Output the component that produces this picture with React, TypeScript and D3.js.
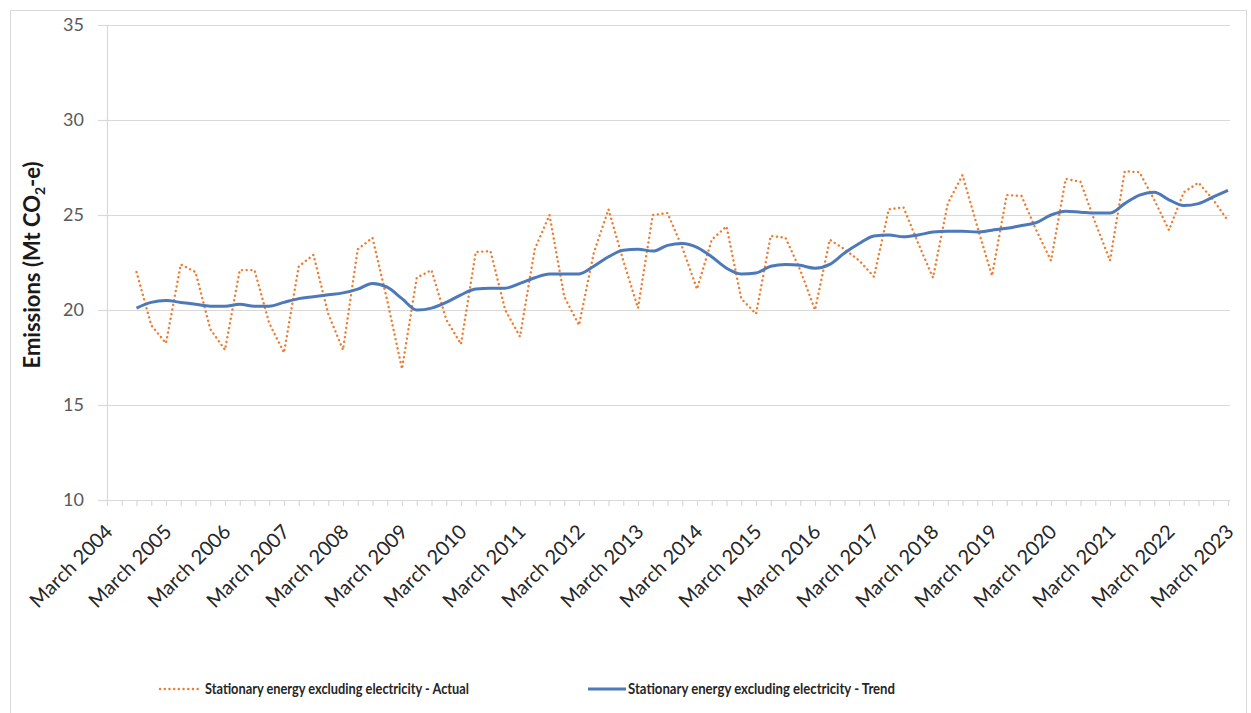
import React from "react";
import * as d3 from "d3";

// ---- Data (quarterly, Mt CO2-e) ----
// Quarter categories run from March 2004 to March 2023 (77 quarters);
// series values start at the September 2004 quarter.
const categoryMonths = ["March", "June", "September", "December"];
const firstYear = 2004;
const lastYear = 2023;
const seriesStartIndex = 2;

const tickLabels = [
  "March 2004", "March 2005", "March 2006", "March 2007", "March 2008",
  "March 2009", "March 2010", "March 2011", "March 2012", "March 2013",
  "March 2014", "March 2015", "March 2016", "March 2017", "March 2018",
  "March 2019", "March 2020", "March 2021", "March 2022", "March 2023",
];

const actual = [
  22.0, 19.2, 18.25, 22.4, 22.0, 19.0, 17.9, 22.1, 22.1, 19.3,
  17.75, 22.3, 22.9, 19.8, 17.9, 23.2, 23.8, 20.5, 16.9, 21.7,
  22.1, 19.5, 18.2, 23.05, 23.1, 20.0, 18.6, 23.2, 25.0, 20.7,
  19.2, 23.0, 25.3, 22.6, 20.1, 25.0, 25.1, 23.3, 21.1, 23.7,
  24.4, 20.6, 19.8, 23.9, 23.8, 22.1, 20.0, 23.7, 23.2, 22.6,
  21.75, 25.3, 25.4, 23.5, 21.7, 25.6, 27.1, 24.4, 21.8, 26.05,
  26.0, 24.2, 22.6, 26.9, 26.75, 24.6, 22.6, 27.3, 27.25, 25.8,
  24.2, 26.2, 26.7, 25.8, 24.7,
];

const trend = [
  20.1, 20.4, 20.5, 20.4, 20.3, 20.2, 20.2, 20.3, 20.2, 20.2,
  20.4, 20.6, 20.7, 20.8, 20.9, 21.1, 21.4, 21.2, 20.6, 20.0,
  20.1, 20.4, 20.8, 21.1, 21.15, 21.15, 21.4, 21.7, 21.9, 21.9,
  21.9, 22.3, 22.8, 23.15, 23.2, 23.1, 23.4, 23.5, 23.3, 22.8,
  22.2, 21.9, 21.95, 22.3, 22.4, 22.35, 22.2, 22.4, 23.0, 23.5,
  23.9, 23.95, 23.85, 23.95, 24.1, 24.15, 24.15, 24.1, 24.2, 24.3,
  24.45, 24.6, 25.0, 25.2, 25.15, 25.1, 25.1, 25.6, 26.05, 26.2,
  25.8, 25.5, 25.6, 25.95, 26.3,
];

const yTicks = [10, 15, 20, 25, 30, 35];

const seriesNames = [
  "Stationary energy excluding electricity - Actual",
  "Stationary energy excluding electricity - Trend",
];

// ---- Build categories ----
const categories: string[] = [];
for (let y = firstYear; y <= lastYear; y++) {
  for (const m of categoryMonths) {
    const label = `${m} ${y}`;
    categories.push(label);
    if (label === tickLabels[tickLabels.length - 1]) break;
  }
}

const W = 1251;
const H = 713;
const plot = { left: 107, right: 1228, top: 25, bottom: 500 };

const ORANGE = "#ED7D31";
const BLUE = "#4E79B9";
const GRID = "#D9D9D9";
const FONT = "Lato, 'Open Sans', sans-serif";

export default function App() {
  const x = d3
    .scalePoint<string>()
    .domain(categories)
    .range([plot.left, plot.right]);
  const y = d3.scaleLinear().domain([10, 35]).range([plot.bottom, plot.top]);

  const actualPts = actual.map((v, i) => ({ c: categories[i + seriesStartIndex], v }));
  const trendPts = trend.map((v, i) => ({ c: categories[i + seriesStartIndex], v }));

  const line = d3
    .line<{ c: string; v: number }>()
    .x((d) => x(d.c) as number)
    .y((d) => y(d.v));

  const trendLine = d3
    .line<{ c: string; v: number }>()
    .x((d) => x(d.c) as number)
    .y((d) => y(d.v))
    .curve(d3.curveMonotoneX);

  return (
    <svg
      width={W}
      height={H}
      style={{ position: "absolute", left: 0, top: 0, background: "#fff" }}
    >
      <rect x={0} y={0} width={W} height={H} fill="#fff" />
      <rect x={10.5} y={10.5} width={1236} height={H} fill="none" stroke={GRID} strokeWidth={1} />

      {/* gridlines */}
      {yTicks.map((t) => (
        <line
          key={t}
          x1={plot.left}
          x2={plot.right + 2}
          y1={Math.round(y(t)) + 0.5}
          y2={Math.round(y(t)) + 0.5}
          stroke={GRID}
          strokeWidth={1.2}
        />
      ))}
      {/* y axis line and major ticks */}
      <line x1={plot.left + 0.5} x2={plot.left + 0.5} y1={plot.top} y2={plot.bottom} stroke={GRID} strokeWidth={1.2} />
      {yTicks.map((t) => (
        <line
          key={"yt" + t}
          x1={plot.left - 9}
          x2={plot.left}
          y1={Math.round(y(t)) + 0.5}
          y2={Math.round(y(t)) + 0.5}
          stroke={GRID}
          strokeWidth={1.2}
        />
      ))}
      {yTicks.map((t) => (
        <text
          key={"yl" + t}
          x={84}
          y={y(t)}
          dy="0.35em"
          textAnchor="end"
          fontFamily={FONT}
          fontSize={18}
          fill="#595959"
        >
          {t}
        </text>
      ))}

      {/* x axis tick marks */}
      {categories.map((c) => (
        <line
          key={"xt" + c}
          x1={(x(c) as number) + 0.5}
          x2={(x(c) as number) + 0.5}
          y1={plot.bottom}
          y2={plot.bottom + 6}
          stroke={GRID}
          strokeWidth={1.2}
        />
      ))}
      {tickLabels.map((lab) => {
        const px = x(lab) as number;
        return (
          <text
            key={"xl" + lab}
            transform={`translate(${px + 7},${plot.bottom + 33}) rotate(-45)`}
            textAnchor="end"
            fontFamily={FONT}
            fontSize={20}
            fill="#262626"
          >
            {lab}
          </text>
        );
      })}

      {/* y axis title */}
      <text
        transform={`translate(40,265) rotate(-90)`}
        textAnchor="middle"
        fontFamily={FONT}
        fontWeight="bold"
        fontSize={22}
        fill="#1a1a1a"
      >
        Emissions (Mt CO<tspan fontSize={14} dy={5}>2</tspan>
        <tspan dy={-5}>-e)</tspan>
      </text>

      {/* series */}
      <path
        d={line(actualPts) || ""}
        fill="none"
        stroke={ORANGE}
        strokeWidth={2.4}
        strokeLinecap="round"
        strokeDasharray="0.1 4.6"
      />
      <path d={trendLine(trendPts) || ""} fill="none" stroke={BLUE} strokeWidth={3} strokeLinejoin="round" />

      {/* legend */}
      <line x1={160} x2={200} y1={689} y2={689} stroke={ORANGE} strokeWidth={2.4} strokeLinecap="round" strokeDasharray="0.1 4.6" />
      <text
        x={205}
        y={689}
        dy="0.35em"
        fontFamily={FONT}
        fontWeight="bold"
        fontSize={14.5}
        textLength={264}
        lengthAdjust="spacingAndGlyphs"
        fill="#262626"
      >
        {seriesNames[0]}
      </text>
      <line x1={588} x2={626} y1={689} y2={689} stroke={BLUE} strokeWidth={3} />
      <text
        x={628}
        y={689}
        dy="0.35em"
        fontFamily={FONT}
        fontWeight="bold"
        fontSize={14.5}
        textLength={267}
        lengthAdjust="spacingAndGlyphs"
        fill="#262626"
      >
        {seriesNames[1]}
      </text>
    </svg>
  );
}
